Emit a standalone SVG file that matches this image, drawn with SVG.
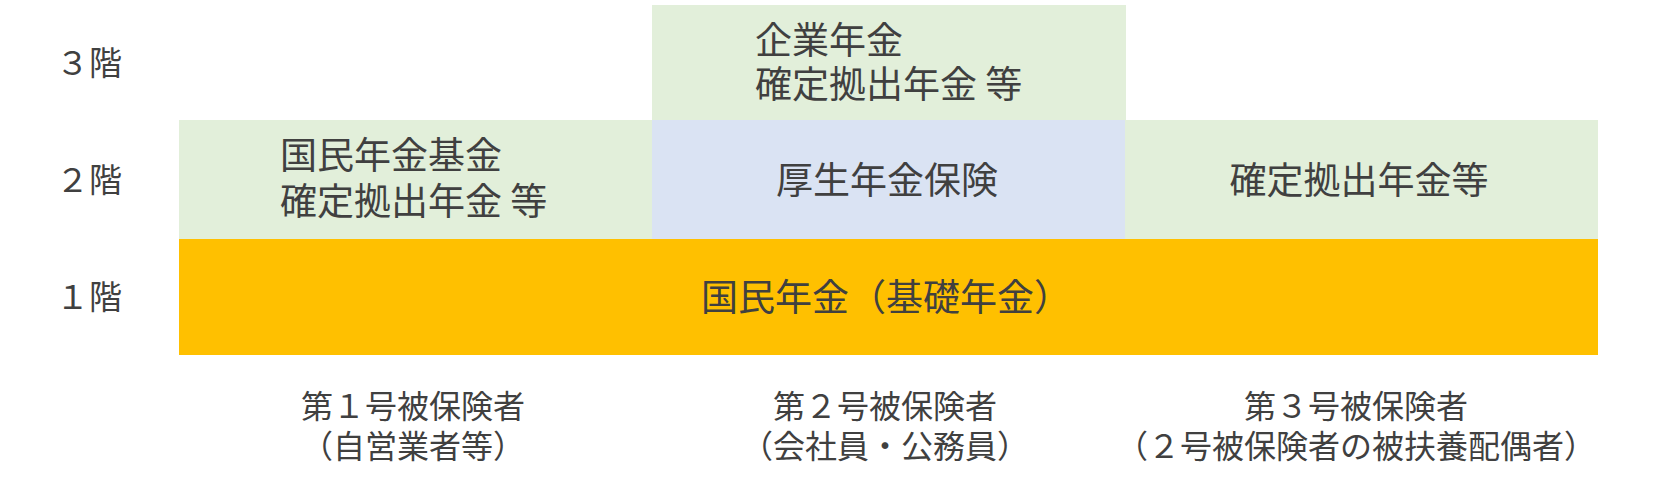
<svg xmlns="http://www.w3.org/2000/svg" width="1654" height="484" viewBox="0 0 1654 484">
<style>
text{font-family:"Noto Sans CJK JP","Noto Sans",sans-serif;fill:#404040}
.g{fill:#E2EFDA}
.b{fill:#DAE3F3}
.o{fill:#FFC000}
.lbl{font-size:33px}
.t{font-size:37px}
.s{font-size:32px}
.m{text-anchor:middle}
</style>
<rect width="1654" height="484" fill="#ffffff"/>
<g id="floor-labels">
<text class="lbl" x="56" y="75">３階</text>
<text class="lbl" x="56" y="192">２階</text>
<text class="lbl" x="56" y="309">１階</text>
</g>
<g id="corp-pension">
<rect class="g" x="652" y="5" width="474" height="116"/>
<text class="t" x="755" y="54">企業年金</text>
<text class="t" x="755" y="98">確定拠出年金 等</text>
</g>
<g id="npf">
<rect class="g" x="179" y="120" width="474" height="120"/>
<text class="t" x="280" y="169">国民年金基金</text>
<text class="t" x="280" y="215">確定拠出年金 等</text>
</g>
<g id="kousei">
<rect class="b" x="652" y="120" width="474" height="120"/>
<text class="t m" x="887" y="194">厚生年金保険</text>
</g>
<g id="dc">
<rect class="g" x="1125" y="120" width="473" height="120"/>
<text class="t m" x="1359" y="194">確定拠出年金等</text>
</g>
<g id="kokumin">
<rect class="o" x="179" y="239" width="1419" height="116"/>
<text class="t m" x="886" y="311">国民年金（基礎年金）</text>
</g>
<g id="insured1">
<text class="s m" x="413" y="418">第１号被保険者</text>
<text class="s m" x="413" y="458">（自営業者等）</text>
</g>
<g id="insured2">
<text class="s m" x="885" y="418">第２号被保険者</text>
<text class="s m" x="885" y="458">（会社員・公務員）</text>
</g>
<g id="insured3">
<text class="s m" x="1356" y="418">第３号被保険者</text>
<text class="s m" x="1356" y="458">（２号被保険者の被扶養配偶者）</text>
</g>
<g id="connectors"></g>
</svg>
